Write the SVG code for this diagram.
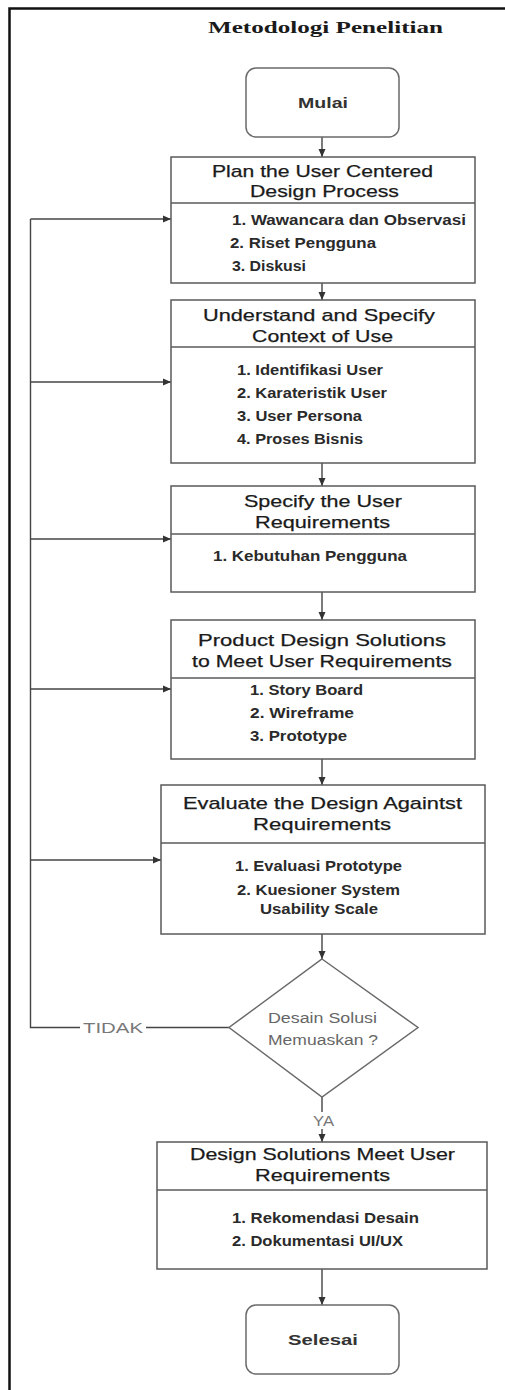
<svg xmlns="http://www.w3.org/2000/svg" width="505" height="1390" viewBox="0 0 505 1390">
  <style>
    .frame { fill: none; stroke: #111; stroke-width: 2.5; }
    .box { fill: #fff; stroke: #5a5a5a; stroke-width: 1.5; }
    .div { stroke: #5a5a5a; stroke-width: 1.5; }
    .term { fill: #fff; stroke: #6a6a6a; stroke-width: 1.5; }
    .link { fill: none; stroke: #444; stroke-width: 1.4; }
    .title { font-family: "Liberation Serif", "Times New Roman", serif; font-weight: bold; font-size: 17px; fill: #1a1a1a; }
    .head { font-family: "Liberation Sans", Arial, sans-serif; font-size: 17px; fill: #1a1a1a; stroke: #1a1a1a; stroke-width: 0.25; }
    .item { font-family: "Liberation Sans", Arial, sans-serif; font-weight: bold; font-size: 14px; fill: #2a2a2a; }
    .termtxt { font-family: "Liberation Sans", Arial, sans-serif; font-weight: bold; font-size: 15.5px; fill: #333; }
    .dec { font-family: "Liberation Sans", Arial, sans-serif; font-size: 14px; fill: #666; }
    .lbl { font-family: "Liberation Sans", Arial, sans-serif; font-size: 15.5px; fill: #777; }
  </style>
  <defs>
    <marker id="arrow" viewBox="0 0 8 8" refX="8" refY="4" markerWidth="8" markerHeight="8" markerUnits="userSpaceOnUse" orient="auto">
      <path d="M0,0.5 L8,4 L0,7.5 Z" fill="#333"/>
    </marker>
  </defs>

  <rect class="frame" x="9.5" y="8.5" width="620" height="1420"/>

  <text class="title" x="208" y="33" textLength="235" lengthAdjust="spacingAndGlyphs">Metodologi Penelitian</text>

  <!-- connectors -->
  <g id="connectors">
    <line class="link" x1="322" y1="137" x2="322" y2="157" marker-end="url(#arrow)"/>
    <line class="link" x1="322" y1="283" x2="322" y2="300" marker-end="url(#arrow)"/>
    <line class="link" x1="322" y1="463" x2="322" y2="486" marker-end="url(#arrow)"/>
    <line class="link" x1="322" y1="592" x2="322" y2="620" marker-end="url(#arrow)"/>
    <line class="link" x1="322" y1="759" x2="322" y2="785" marker-end="url(#arrow)"/>
    <line class="link" x1="322" y1="934" x2="322" y2="959" marker-end="url(#arrow)"/>
    <line class="link" x1="322" y1="1097" x2="322" y2="1112"/>
    <line class="link" x1="322" y1="1129" x2="322" y2="1142" marker-end="url(#arrow)"/>
    <line class="link" x1="322" y1="1269" x2="322" y2="1305" marker-end="url(#arrow)"/>
    <!-- "TIDAK" feedback loop -->
    <line class="link" x1="229" y1="1027.5" x2="146" y2="1027.5"/>
    <polyline class="link" points="80,1027.5 30.5,1027.5 30.5,219"/>
    <line class="link" x1="30.5" y1="219" x2="171" y2="219" marker-end="url(#arrow)"/>
    <line class="link" x1="30.5" y1="382" x2="171" y2="382" marker-end="url(#arrow)"/>
    <line class="link" x1="30.5" y1="539" x2="171" y2="539" marker-end="url(#arrow)"/>
    <line class="link" x1="30.5" y1="689" x2="171" y2="689" marker-end="url(#arrow)"/>
    <line class="link" x1="30.5" y1="860" x2="161" y2="860" marker-end="url(#arrow)"/>
    <text class="lbl" x="83" y="1033" textLength="60" lengthAdjust="spacingAndGlyphs">TIDAK</text>
    <text class="lbl" x="313" y="1126" textLength="21" lengthAdjust="spacingAndGlyphs">YA</text>
  </g>

  <g id="mulai">
    <rect class="term" x="246" y="68" width="153" height="69" rx="10"/>
    <text class="termtxt" x="298" y="108" textLength="50" lengthAdjust="spacingAndGlyphs">Mulai</text>
  </g>

  <g id="plan">
    <rect class="box" x="171" y="157" width="304" height="126"/>
    <line class="div" x1="171" y1="203" x2="475" y2="203"/>
    <text class="head" x="212" y="177" textLength="221" lengthAdjust="spacingAndGlyphs">Plan the User Centered</text>
    <text class="head" x="250" y="197" textLength="149" lengthAdjust="spacingAndGlyphs">Design Process</text>
    <text class="item" x="232" y="225" textLength="234" lengthAdjust="spacingAndGlyphs">1. Wawancara dan Observasi</text>
    <text class="item" x="230" y="248" textLength="146" lengthAdjust="spacingAndGlyphs">2. Riset Pengguna</text>
    <text class="item" x="232" y="271" textLength="74" lengthAdjust="spacingAndGlyphs">3. Diskusi</text>
  </g>

  <g id="understand">
    <rect class="box" x="171" y="300" width="304" height="163"/>
    <line class="div" x1="171" y1="347" x2="475" y2="347"/>
    <text class="head" x="203" y="321" textLength="232" lengthAdjust="spacingAndGlyphs">Understand and Specify</text>
    <text class="head" x="252" y="342" textLength="141" lengthAdjust="spacingAndGlyphs">Context of Use</text>
    <text class="item" x="237" y="375" textLength="146" lengthAdjust="spacingAndGlyphs">1. Identifikasi User</text>
    <text class="item" x="237" y="398" textLength="150" lengthAdjust="spacingAndGlyphs">2. Karateristik User</text>
    <text class="item" x="237" y="421" textLength="125" lengthAdjust="spacingAndGlyphs">3. User Persona</text>
    <text class="item" x="237" y="444" textLength="126" lengthAdjust="spacingAndGlyphs">4. Proses Bisnis</text>
  </g>

  <g id="specify">
    <rect class="box" x="171" y="486" width="304" height="106"/>
    <line class="div" x1="171" y1="534" x2="475" y2="534"/>
    <text class="head" x="244" y="507" textLength="158" lengthAdjust="spacingAndGlyphs">Specify the User</text>
    <text class="head" x="255" y="528" textLength="135" lengthAdjust="spacingAndGlyphs">Requirements</text>
    <text class="item" x="213" y="561" textLength="194" lengthAdjust="spacingAndGlyphs">1. Kebutuhan Pengguna</text>
  </g>

  <g id="product">
    <rect class="box" x="171" y="620" width="304" height="139"/>
    <line class="div" x1="171" y1="678" x2="475" y2="678"/>
    <text class="head" x="198" y="646" textLength="248" lengthAdjust="spacingAndGlyphs">Product Design Solutions</text>
    <text class="head" x="192" y="667" textLength="260" lengthAdjust="spacingAndGlyphs">to Meet User Requirements</text>
    <text class="item" x="250" y="695" textLength="113" lengthAdjust="spacingAndGlyphs">1. Story Board</text>
    <text class="item" x="250" y="718" textLength="104" lengthAdjust="spacingAndGlyphs">2. Wireframe</text>
    <text class="item" x="250" y="741" textLength="97" lengthAdjust="spacingAndGlyphs">3. Prototype</text>
  </g>

  <g id="evaluate">
    <rect class="box" x="161" y="785" width="324" height="149"/>
    <line class="div" x1="161" y1="843" x2="485" y2="843"/>
    <text class="head" x="183" y="809" textLength="279" lengthAdjust="spacingAndGlyphs">Evaluate the Design Againtst</text>
    <text class="head" x="253" y="830" textLength="138" lengthAdjust="spacingAndGlyphs">Requirements</text>
    <text class="item" x="235" y="871" textLength="167" lengthAdjust="spacingAndGlyphs">1. Evaluasi Prototype</text>
    <text class="item" x="237" y="895" textLength="163" lengthAdjust="spacingAndGlyphs">2. Kuesioner System</text>
    <text class="item" x="260" y="914" textLength="118" lengthAdjust="spacingAndGlyphs">Usability Scale</text>
  </g>

  <g id="decision">
    <polygon class="term" points="322,959 418,1027.5 322,1097 229,1027.5"/>
    <text class="dec" x="268" y="1023" textLength="109" lengthAdjust="spacingAndGlyphs">Desain Solusi</text>
    <text class="dec" x="268" y="1045" textLength="110" lengthAdjust="spacingAndGlyphs">Memuaskan ?</text>
  </g>

  <g id="design-solutions">
    <rect class="box" x="157" y="1142" width="330" height="127"/>
    <line class="div" x1="157" y1="1190" x2="487" y2="1190"/>
    <text class="head" x="190" y="1160" textLength="265" lengthAdjust="spacingAndGlyphs">Design Solutions Meet User</text>
    <text class="head" x="255" y="1181" textLength="135" lengthAdjust="spacingAndGlyphs">Requirements</text>
    <text class="item" x="232" y="1223" textLength="187" lengthAdjust="spacingAndGlyphs">1. Rekomendasi Desain</text>
    <text class="item" x="232" y="1246" textLength="171" lengthAdjust="spacingAndGlyphs">2. Dokumentasi UI/UX</text>
  </g>

  <g id="selesai">
    <rect class="term" x="246" y="1305" width="153" height="69" rx="10"/>
    <text class="termtxt" x="288" y="1345" textLength="70" lengthAdjust="spacingAndGlyphs">Selesai</text>
  </g>
</svg>
